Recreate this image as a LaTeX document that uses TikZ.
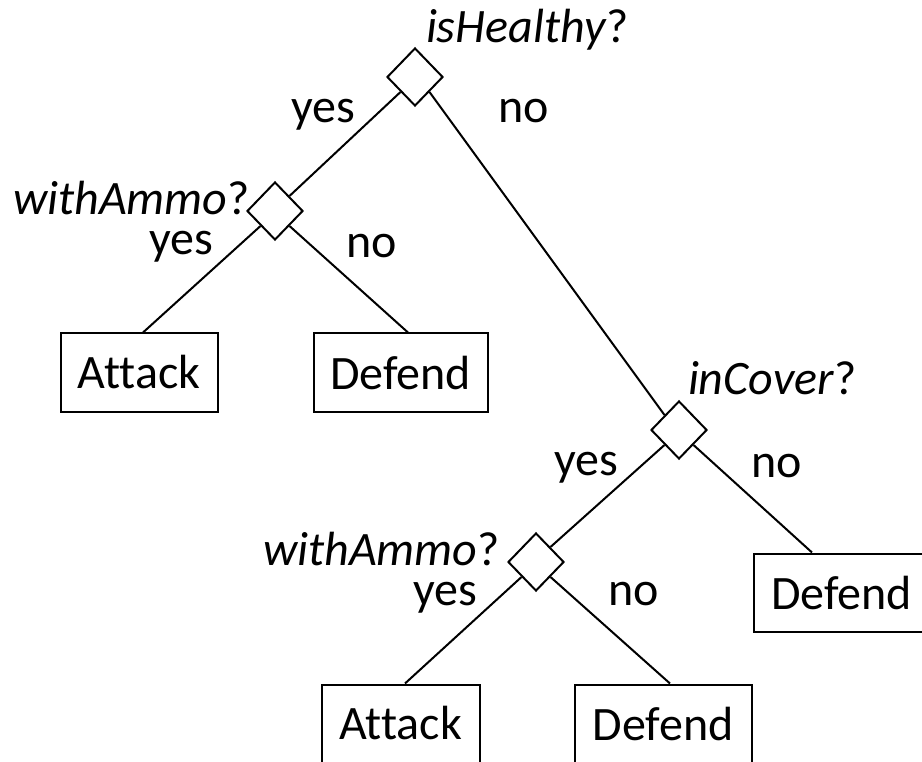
\documentclass[tikz,border=0pt]{standalone}
\usepackage{fontspec}
\setmainfont[Ligatures=NoCommon]{Carlito}
\usetikzlibrary{shapes.geometric}
\tikzset{
  test/.style={draw, diamond, shape aspect=1, minimum width=56pt, minimum height=58pt, inner sep=0pt},
  leaf/.style={draw, rectangle, minimum height=78pt, inner sep=0pt},
  lbl/.style={anchor=base west, inner sep=0pt},
  edge/.style={draw}
}
\begin{document}
\begin{tikzpicture}[x=1pt, y=-1pt, line width=2pt, font=\fontsize{48}{57}\selectfont]
  \useasboundingbox (0,0) rectangle (922,762);
  \clip (0,0) rectangle (922,762);

  % decision nodes
  \node[test] (root) at (415,77) {};
  \node[test] (ammoA) at (275,211) {};
  \node[test] (cover) at (679,430) {};
  \node[test] (ammoB) at (536,562) {};

  % leaves
  \node[leaf, minimum width=157pt] (attackA) at (139,372.5) {Attack};
  \node[leaf, minimum width=174pt] (defendA) at (400.5,372.5) {Defend};
  \node[leaf, minimum width=176pt] (defendC) at (841.5,592.5) {Defend};
  \node[leaf, minimum width=158pt] (attackB) at (400.5,723.5) {Attack};
  \node[leaf, minimum width=177pt] (defendB) at (663,723.5) {Defend};

  % questions
  \node[lbl] (qroot) at (425,43) {\textit{isHealthy}?};
  \node[lbl] (qammoA) at (12,215) {\textit{withAmmo}?};
  \node[lbl] (qcover) at (687,395) {\textit{inCover}?};
  \node[lbl] (qammoB) at (262,565) {\textit{withAmmo}?};

  % branch labels
  \node[lbl] (y1) at (290,123) {yes};
  \node[lbl] (n1) at (497,123) {no};
  \node[lbl] (y2) at (148,255) {yes};
  \node[lbl] (n2) at (345,258) {no};
  \node[lbl] (y3) at (553,475) {yes};
  \node[lbl] (n3) at (750,477) {no};
  \node[lbl] (y4) at (412,605) {yes};
  \node[lbl] (n4) at (607,605) {no};

  % branches
  \draw[edge] (root.south west) -- (ammoA.north east);
  \draw[edge] (root.south east) -- (cover.north west);
  \draw[edge] (ammoA.south west) -- ([xshift=4pt]attackA.north);
  \draw[edge] (ammoA.south east) -- ([xshift=7.5pt]defendA.north);
  \draw[edge] (cover.south west) -- (ammoB.north east);
  \draw[edge] (cover.south east) -- ([xshift=-29.5pt]defendC.north);
  \draw[edge] (ammoB.south west) -- ([xshift=4.5pt]attackB.north);
  \draw[edge] (ammoB.south east) -- ([xshift=7pt]defendB.north);
\end{tikzpicture}
\end{document}
